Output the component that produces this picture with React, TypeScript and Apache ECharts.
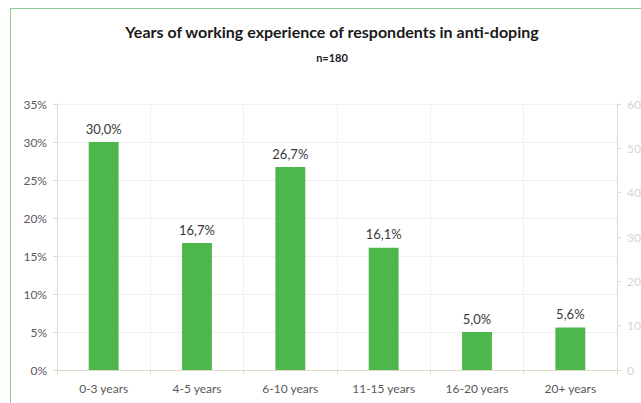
import React, { useEffect, useRef } from "react";
import * as echarts from "echarts";

const categories = ["0-3 years", "4-5 years", "6-10 years", "11-15 years", "16-20 years", "20+ years"];
const percentages = [30.0, 16.7, 26.7, 16.1, 5.0, 5.6];
const leftTicks = { min: 0, max: 35, interval: 5 };
const rightTicks = { min: 0, max: 60, interval: 10 };
const titleText = "Years of working experience of respondents in anti-doping";
const subtitleText = "n=180";

const FONT = "Lato, 'Noto Sans', sans-serif";

export default function App() {
  const ref = useRef<HTMLDivElement>(null);
  useEffect(() => {
    if (!ref.current) return;
    const chart = echarts.init(ref.current, undefined, { renderer: "svg" });
    chart.setOption({
      animation: false,
      backgroundColor: "#ffffff",
      textStyle: { fontFamily: FONT },
      title: [
        {
          text: titleText,
          left: "center",
          top: 9,
          textStyle: { fontFamily: FONT, fontSize: 16, fontWeight: "bold", color: "#1a1a1a" },
        },
        {
          text: subtitleText,
          left: "center",
          top: 38,
          textStyle: { fontFamily: FONT, fontSize: 11, fontWeight: "bold", color: "#1a1a1a" },
        },
      ],
      grid: { left: 46, right: 36, top: 95, bottom: 39, containLabel: false },
      xAxis: {
        type: "category",
        data: categories,
        boundaryGap: true,
        axisLine: { show: true, lineStyle: { color: "#dcdcc4", width: 1 } },
        axisTick: { show: true, length: 4, lineStyle: { color: "#dcdcc4" } },
        axisLabel: { color: "#595959", fontSize: 12, fontFamily: FONT, margin: 12 },
        splitLine: { show: true, lineStyle: { color: "#f0f0f0", width: 1 } },
      },
      yAxis: [
        {
          type: "value",
          min: leftTicks.min,
          max: leftTicks.max,
          interval: leftTicks.interval,
          axisLine: { show: true, lineStyle: { color: "#dcdcc4" } },
          axisTick: { show: true, length: 4, lineStyle: { color: "#dcdcc4" } },
          axisLabel: { color: "#595959", fontSize: 12, fontFamily: FONT, margin: 10, formatter: (v: number) => v + "%" },
          splitLine: { show: true, lineStyle: { color: "#f0f0f0", width: 1 } },
        },
        {
          type: "value",
          position: "right",
          min: rightTicks.min,
          max: rightTicks.max,
          interval: rightTicks.interval,
          axisLine: { show: true, lineStyle: { color: "#dcdcc4" } },
          axisTick: { show: true, length: 4, lineStyle: { color: "#dcdcc4" } },
          axisLabel: { color: "#d4d4d4", fontSize: 12, fontFamily: FONT, margin: 10 },
          splitLine: { show: false },
        },
      ],
      series: [
        {
          type: "bar",
          data: percentages,
          yAxisIndex: 0,
          barWidth: "32%",
          itemStyle: { color: "#4cb84c" },
          label: {
            show: true,
            position: "top",
            distance: 7,
            color: "#3a3a3a",
            fontSize: 13,
            fontFamily: FONT,
            formatter: (p: any) => p.value.toFixed(1).replace(".", ",") + "%",
          },
        },
      ],
    });
    return () => chart.dispose();
  }, []);

  return (
    <div style={{ position: "fixed", left: 0, top: 0, width: 641, height: 403, overflow: "hidden", background: "#ffffff" }}>
      <div
        style={{
          position: "absolute",
          left: 10,
          top: 8,
          width: 660,
          height: 420,
          borderLeft: "1px solid #8fcc8f",
          borderTop: "1px solid #8fcc8f",
          background: "#ffffff",
        }}
      >
        <div ref={ref} style={{ width: 642, height: 400 }} />
      </div>
    </div>
  );
}
